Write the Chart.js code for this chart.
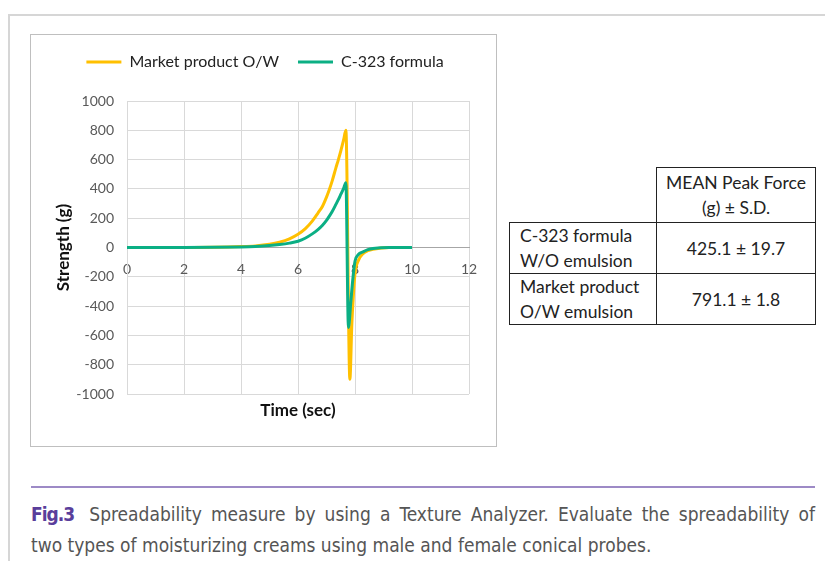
<!DOCTYPE html>
<html>
<head>
<meta charset="utf-8">
<script src="https://cdn.jsdelivr.net/npm/chart.js@4.4.1/dist/chart.umd.min.js"></script>
<style>
  body { margin: 0; background: #fff; width: 825px; height: 561px; overflow: hidden; position: relative; font-family: Lato, sans-serif; }
  #frame { position: absolute; left: 8px; top: 14px; width: 830px; height: 600px; border-top: 2px solid #d6d6d6; border-left: 2px solid #d6d6d6; }
  #chartBox { position: absolute; left: 30px; top: 34px; width: 467px; height: 413px; border: 1px solid #bfbfbf; box-sizing: border-box; background: #fff; }
  #peakTable { position: absolute; left: 509px; top: 167px; border-collapse: collapse; font-size: 17.5px; color: #222; }
  #peakTable td { border: 1px solid #222; padding: 0; line-height: 25px; }
  #peakTable td.name { width: 136px; padding-left: 10px; text-align: left; height: 50px; }
  #peakTable td.val { width: 158px; text-align: center; }
  #peakTable td.blank { border-top: none; border-left: none; }
  #peakTable tr.head td { height: 54px; }
  #rule { position: absolute; left: 31px; top: 486px; width: 784px; height: 2px; background: #9d8ac6; }
  #caption { position: absolute; left: 31px; top: 499px; width: 784px; font-family: "Liberation Sans Narrow", "DejaVu Sans Condensed", sans-serif; font-size: 19px; color: #555; line-height: 31px; }
  #caption .l1 { text-align: justify; text-align-last: justify; }
  #caption b { color: #5a3e9b; font-weight: bold; margin-right: 6px; letter-spacing: -1px; }
</style>
</head>
<body>
<div id="frame"></div>
<div id="chartBox"><canvas id="chart"></canvas></div>

<table id="peakTable">
  <tr class="head"><td class="blank"></td><td class="val">MEAN Peak Force<br>(g) ± S.D.</td></tr>
  <tr><td class="name">C-323 formula<br>W/O emulsion</td><td class="val">425.1 ± 19.7</td></tr>
  <tr><td class="name">Market product<br>O/W emulsion</td><td class="val">791.1 ± 1.8</td></tr>
</table>

<div id="rule"></div>
<div id="caption">
  <div class="l1"><b>Fig.3</b> Spreadability measure by using a Texture Analyzer. Evaluate the spreadability of</div>
  <div>two types of moisturizing creams using male and female conical probes.</div>
</div>

<script>
// ====================
// Datos
// ====================
const seriesNames = ['Market product O/W', 'C-323 formula'];

const timeMarket = [0, 1, 2, 3, 4, 4.5, 5, 5.35, 5.7, 6, 6.25, 6.5, 6.7, 6.86, 7.0, 7.1, 7.2, 7.33, 7.42, 7.5, 7.6, 7.68,
  7.82, 7.89, 7.94, 8.0, 8.12, 8.28, 8.45, 8.63, 9.2, 10];
const strengthMarket = [0, 0, 0, 1, 6, 11, 22, 36, 59, 90, 127, 180, 235, 282, 344, 396, 455, 544, 602, 658, 734, 800,
  -900, -519, -337, -178, -88, -43, -22, -12, 0, 0];

const timeC323 = [0, 1, 2, 3, 4, 4.5, 5, 5.35, 5.7, 6, 6.25, 6.5, 6.7, 6.86, 7.0, 7.1, 7.2, 7.33, 7.42, 7.5, 7.6, 7.68,
  7.77, 7.85, 7.92, 8.0, 8.12, 8.28, 8.45, 8.63, 9.2, 10];
const strengthC323 = [0, 0, 0, 1, 4, 7, 13, 20, 30, 43, 63, 93, 122, 152, 185, 214, 246, 294, 328, 362, 404, 442,
  -546, -380, -223, -94, -48, -30, -15, -7, 0, 0];

const xTicks = [0, 2, 4, 6, 8, 10, 12];
const yTicks = [-1000, -800, -600, -400, -200, 0, 200, 400, 600, 800, 1000];

const colorMarket = '#FFC000';
const colorC323 = '#0BAF84';
const tickColor = '#595959';
const gridColor = '#d9d9d9';
const fontFamily = 'Lato, sans-serif';

function toPoints(xs, ys) {
  return xs.map((x, i) => ({ x, y: ys[i] }));
}

// ====================
// Gráfico
// ====================
const ctx = document.getElementById('chart').getContext('2d');
new Chart(ctx, {
  type: 'line',
  data: {
    datasets: [
      {
        label: seriesNames[0],
        data: toPoints(timeMarket, strengthMarket),
        borderColor: colorMarket,
        backgroundColor: colorMarket,
        borderWidth: 3,
        pointRadius: 0,
        cubicInterpolationMode: 'monotone',
        order: 1
      },
      {
        label: seriesNames[1],
        data: toPoints(timeC323, strengthC323),
        borderColor: colorC323,
        backgroundColor: colorC323,
        borderWidth: 3,
        pointRadius: 0,
        cubicInterpolationMode: 'monotone',
        order: 0
      }
    ]
  },
  options: {
    responsive: true,
    maintainAspectRatio: false,
    animation: false,
    // padding izquierdo para centrar la leyenda como en el original
    layout: { padding: { top: 0, left: 30, right: 27, bottom: 0 } },
    plugins: {
      tooltip: { enabled: false },
      legend: {
        position: 'top',
        labels: {
          boxWidth: 35,
          boxHeight: 3,
          padding: 19,
          color: '#222',
          font: { family: fontFamily, size: 16 },
          sort: (a, b) => a.datasetIndex - b.datasetIndex,
          generateLabels: chart => Chart.defaults.plugins.legend.labels.generateLabels(chart).map(l => {
            l.lineWidth = 0;
            return l;
          })
        }
      }
    },
    scales: {
      x: {
        type: 'linear',
        position: { y: 0 },
        min: 0,
        max: 12,
        afterBuildTicks: s => { s.ticks = xTicks.map(v => ({ value: v })); },
        ticks: { color: tickColor, padding: 14, font: { family: fontFamily, size: 14 }, callback: v => String(v) },
        grid: { color: gridColor, drawTicks: false },
        border: { color: '#a6a6a6', width: 1 }
      },
      xBottom: {
        type: 'linear',
        position: 'bottom',
        min: 0,
        max: 12,
        ticks: { display: false },
        grid: { display: false, drawTicks: false },
        border: { display: false },
        title: { display: true, text: 'Time (sec)', color: '#111', padding: { top: 0, bottom: 25 }, font: { family: fontFamily, size: 17, weight: 'bold' } },
        afterFit: s => { s.height = 52; }
      },
      xTop: {
        type: 'linear',
        position: 'top',
        min: 0,
        max: 12,
        ticks: { display: false },
        grid: { display: false, drawTicks: false },
        border: { display: false },
        afterFit: s => { s.height = 21; }
      },
      y: {
        type: 'linear',
        min: -1000,
        max: 1000,
        afterBuildTicks: s => { s.ticks = yTicks.map(v => ({ value: v })); },
        ticks: { color: tickColor, padding: 13, font: { family: fontFamily, size: 14 }, callback: v => String(v) },
        grid: { color: gridColor, drawTicks: false },
        border: { color: gridColor },
        title: { display: true, text: 'Strength (g)', color: '#111', padding: { top: -8, bottom: 0 }, font: { family: fontFamily, size: 17, weight: 'bold' } },
        afterFit: s => { s.width = 66; }
      }
    }
  }
});
</script>
</body>
</html>
